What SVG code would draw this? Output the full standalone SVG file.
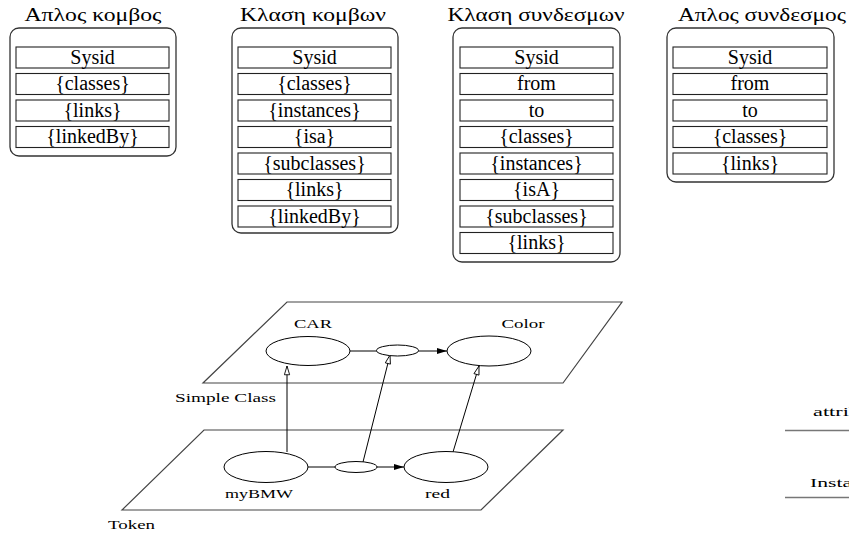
<svg xmlns="http://www.w3.org/2000/svg" width="849" height="535" viewBox="0 0 849 535">
<style>
text{font-family:"Liberation Serif","Times New Roman",serif;fill:#000}
.title{font-size:18px;text-anchor:middle}
.row{font-size:20px;text-anchor:middle}
.lbl{font-size:13px}
.outer{fill:#fff;stroke:#333;stroke-width:1.3}
.cell{fill:#fff;stroke:#222;stroke-width:1.1}
.plane{fill:none;stroke:#444;stroke-width:1.2}
.ell{fill:#fff;stroke:#000;stroke-width:1}
.ln{fill:none;stroke:#000;stroke-width:1}
.gl{stroke:#777;stroke-width:1.5}
</style>
<defs>
<marker id="fill" viewBox="0 0 10 6" refX="10" refY="3" markerWidth="12" markerHeight="6" markerUnits="userSpaceOnUse" orient="auto"><path d="M0,0 L10,3 L0,6 Z" fill="#000"/></marker>
<marker id="open" viewBox="0 0 12 8" refX="11" refY="4" markerWidth="11" markerHeight="7" markerUnits="userSpaceOnUse" orient="auto"><path d="M1,1 L11,4 L1,7 Z" fill="#fff" stroke="#000" stroke-width="1"/></marker>
</defs>

<g id="apl-kombos">
<text class="title" x="93" y="21" textLength="137" lengthAdjust="spacingAndGlyphs">Απλος κομβος</text>
<rect class="outer" x="10" y="28" width="166" height="128" rx="9"/>
<rect class="cell" x="16" y="47" width="153" height="21"/><text class="row" x="92.5" y="63.5">Sysid</text>
<rect class="cell" x="16" y="73.5" width="153" height="21"/><text class="row" x="92.5" y="90">{classes}</text>
<rect class="cell" x="16" y="100" width="153" height="21"/><text class="row" x="92.5" y="116.5">{links}</text>
<rect class="cell" x="16" y="126.5" width="153" height="21"/><text class="row" x="92.5" y="143">{linkedBy}</text>
</g>

<g id="klasi-kombon">
<text class="title" x="313" y="21" textLength="146" lengthAdjust="spacingAndGlyphs">Κλαση κομβων</text>
<rect class="outer" x="232" y="28" width="166" height="205" rx="9"/>
<rect class="cell" x="238" y="47" width="153" height="21"/><text class="row" x="314.5" y="63.5">Sysid</text>
<rect class="cell" x="238" y="73.5" width="153" height="21"/><text class="row" x="314.5" y="90">{classes}</text>
<rect class="cell" x="238" y="100" width="153" height="21"/><text class="row" x="314.5" y="116.5">{instances}</text>
<rect class="cell" x="238" y="126.5" width="153" height="21"/><text class="row" x="314.5" y="143">{isa}</text>
<rect class="cell" x="238" y="153" width="153" height="21"/><text class="row" x="314.5" y="169.5">{subclasses}</text>
<rect class="cell" x="238" y="179.5" width="153" height="21"/><text class="row" x="314.5" y="196">{links}</text>
<rect class="cell" x="238" y="206" width="153" height="21"/><text class="row" x="314.5" y="222.5">{linkedBy}</text>
</g>

<g id="klasi-syndesmon">
<text class="title" x="536" y="21" textLength="177" lengthAdjust="spacingAndGlyphs">Κλαση συνδεσμων</text>
<rect class="outer" x="453" y="28" width="167" height="234" rx="9"/>
<rect class="cell" x="460" y="47" width="153" height="21"/><text class="row" x="536.5" y="63.5">Sysid</text>
<rect class="cell" x="460" y="73.5" width="153" height="21"/><text class="row" x="536.5" y="90">from</text>
<rect class="cell" x="460" y="100" width="153" height="21"/><text class="row" x="536.5" y="116.5">to</text>
<rect class="cell" x="460" y="126.5" width="153" height="21"/><text class="row" x="536.5" y="143">{classes}</text>
<rect class="cell" x="460" y="153" width="153" height="21"/><text class="row" x="536.5" y="169.5">{instances}</text>
<rect class="cell" x="460" y="179.5" width="153" height="21"/><text class="row" x="536.5" y="196">{isA}</text>
<rect class="cell" x="460" y="206" width="153" height="21"/><text class="row" x="536.5" y="222.5">{subclasses}</text>
<rect class="cell" x="460" y="232.5" width="153" height="21"/><text class="row" x="536.5" y="249">{links}</text>
</g>

<g id="apl-syndesmos">
<text class="title" x="762" y="21" textLength="168" lengthAdjust="spacingAndGlyphs">Απλος συνδεσμος</text>
<rect class="outer" x="667" y="28" width="167" height="154" rx="9"/>
<rect class="cell" x="673" y="47" width="154" height="21"/><text class="row" x="750" y="63.5">Sysid</text>
<rect class="cell" x="673" y="73.5" width="154" height="21"/><text class="row" x="750" y="90">from</text>
<rect class="cell" x="673" y="100" width="154" height="21"/><text class="row" x="750" y="116.5">to</text>
<rect class="cell" x="673" y="126.5" width="154" height="21"/><text class="row" x="750" y="143">{classes}</text>
<rect class="cell" x="673" y="153" width="154" height="21"/><text class="row" x="750" y="169.5">{links}</text>
</g>

<g id="plane-simple-class">
<polygon class="plane" points="287,302 622,302 563,383 203,383"/>
<text class="lbl" x="175" y="402" textLength="101" lengthAdjust="spacingAndGlyphs">Simple Class</text>
</g>
<g id="plane-token">
<polygon class="plane" points="204,430 563,430 481,510 122,510"/>
<text class="lbl" x="108" y="529" textLength="47" lengthAdjust="spacingAndGlyphs">Token</text>
</g>

<g id="connectors">
<line class="ln" x1="350" y1="351" x2="377" y2="351"/>
<line class="ln" x1="418" y1="351" x2="447" y2="351" marker-end="url(#fill)"/>
<line class="ln" x1="308" y1="467" x2="335" y2="467"/>
<line class="ln" x1="377" y1="467" x2="404" y2="467" marker-end="url(#fill)"/>
<line class="ln" x1="287" y1="452" x2="287" y2="366" marker-end="url(#open)"/>
<line class="ln" x1="363" y1="462" x2="390" y2="355" marker-end="url(#open)"/>
<line class="ln" x1="453" y1="452" x2="479" y2="366" marker-end="url(#open)"/>
</g>

<g id="car">
<ellipse class="ell" cx="308" cy="351" rx="42" ry="14.5"/>
<text class="lbl" x="313" y="328" text-anchor="middle" textLength="38" lengthAdjust="spacingAndGlyphs">CAR</text>
</g>
<g id="class-link">
<ellipse class="ell" cx="397.5" cy="350.5" rx="21" ry="5.5"/>
</g>
<g id="color">
<ellipse class="ell" cx="489" cy="351" rx="42" ry="15"/>
<text class="lbl" x="523" y="328" text-anchor="middle" textLength="43" lengthAdjust="spacingAndGlyphs">Color</text>
</g>
<g id="mybmw">
<ellipse class="ell" cx="266" cy="467" rx="42" ry="15.5"/>
<text class="lbl" x="259" y="498" text-anchor="middle" textLength="68" lengthAdjust="spacingAndGlyphs">myBMW</text>
</g>
<g id="token-link">
<ellipse class="ell" cx="356" cy="467" rx="21" ry="5.5"/>
</g>
<g id="red">
<ellipse class="ell" cx="446" cy="467" rx="42" ry="15.5"/>
<text class="lbl" x="437.5" y="498" text-anchor="middle" textLength="25" lengthAdjust="spacingAndGlyphs">red</text>
</g>

<g id="legend">
<text class="lbl" x="813" y="416" textLength="47" lengthAdjust="spacingAndGlyphs">attrib</text>
<line class="gl" x1="785" y1="430.5" x2="849" y2="430.5"/>
<text class="lbl" x="810" y="487" textLength="42" lengthAdjust="spacingAndGlyphs">Insta</text>
<line class="gl" x1="785" y1="497.5" x2="849" y2="497.5"/>
</g>
</svg>
